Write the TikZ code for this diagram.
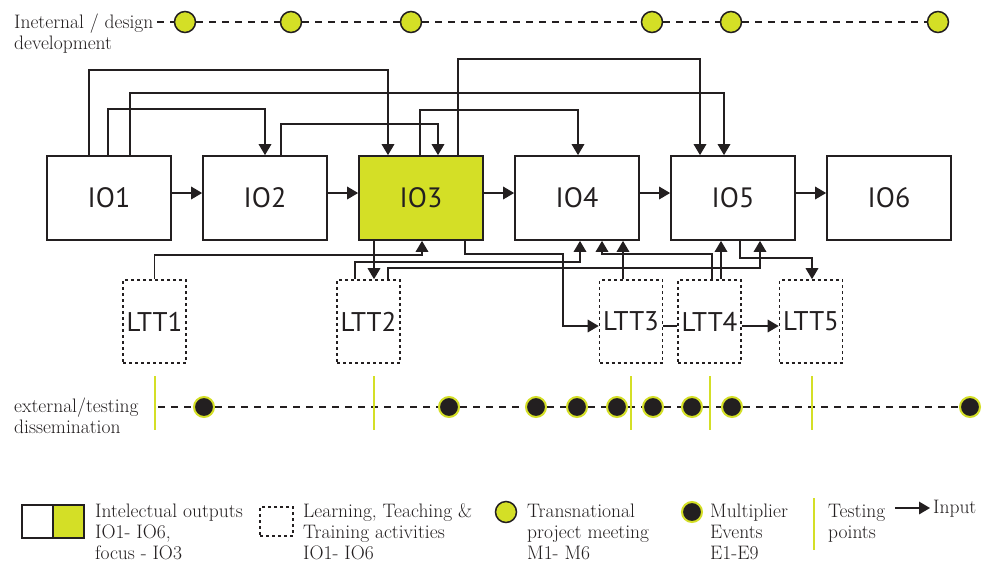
\documentclass[tikz,border=0pt]{standalone}
\usepackage{fontspec}
\newfontfamily\iofont{PT Sans}
\usetikzlibrary{arrows.meta}
\definecolor{iolime}{RGB}{212,223,38}
\definecolor{ink}{RGB}{35,31,32}
\tikzset{
  io/.style={draw=ink, line width=1.7pt, minimum width=124pt, minimum height=84pt, inner sep=0pt,
    font=\iofont\fontsize{28}{30}\selectfont, text=ink},
  ltt/.style={draw=ink, line width=1.6pt, dash pattern=on 3pt off 3pt, minimum width=63pt, minimum height=83pt,
    inner sep=0pt, font=\iofont\fontsize{27}{30}\selectfont, text=ink},
  arr/.style={draw=ink, line width=1.7pt, -{Triangle[length=11pt,width=12.5pt]}},
  link/.style={draw=ink, line width=1.7pt},
  meet/.style={circle, draw=ink, fill=iolime, line width=1.5pt, minimum size=21pt, inner sep=0pt},
  mult/.style={circle, draw=iolime, fill=ink, line width=2pt, minimum size=20pt, inner sep=0pt},
  tline/.style={draw=iolime, line width=2.8pt},
  timeline/.style={draw=ink, line width=1.6pt, dash pattern=on 7pt off 6pt},
  lbl/.style={font=\fontsize{19.5}{21}\selectfont, anchor=base west, inner sep=0pt, text=ink},
  legbox/.style={draw=ink, line width=1.6pt, minimum width=31pt, minimum height=33pt, inner sep=0pt},
  legdash/.style={draw=ink, line width=1.5pt, dash pattern=on 3pt off 3pt, minimum width=33pt, minimum height=29pt, inner sep=0pt}
}
\begin{document}
\begin{tikzpicture}[x=1pt,y=-1pt]
\fill[white] (0,0) rectangle (999,566);
\useasboundingbox (0,0) rectangle (999,566);

% ---- intellectual outputs
\node[io] (IO1) at (109,198) {IO1};
\node[io] (IO2) at (265,198) {IO2};
\node[io,fill=iolime] (IO3) at (421,198) {IO3};
\node[io] (IO4) at (577,198) {IO4};
\node[io] (IO5) at (733,198) {IO5};
\node[io] (IO6) at (889,198) {IO6};

\draw[arr] ([yshift=5pt]IO1.east) -- ([yshift=5pt]IO2.west);
\draw[arr] ([yshift=5pt]IO2.east) -- ([yshift=5pt]IO3.west);
\draw[arr] ([yshift=5pt]IO3.east) -- ([yshift=5pt]IO4.west);
\draw[arr] ([yshift=5pt]IO4.east) -- ([yshift=5pt]IO5.west);
\draw[arr] ([yshift=5pt]IO5.east) -- ([yshift=5pt]IO6.west);

% ---- LTT activities
\node[ltt] (LTT1) at (154.5,321.5) {LTT1};
\node[ltt] (LTT2) at (368.5,321.5) {LTT2};
\node[ltt] (LTT3) at (631,321.5) {LTT3};
\node[ltt] (LTT4) at (709.5,321.5) {LTT4};
\node[ltt] (LTT5) at (811,321.5) {LTT5};

% ---- upper connectors
\draw[arr] ([xshift=-20pt]IO1.north) -- ++(0,-85) -| ([xshift=-33pt]IO3.north);
\draw[arr] ([xshift=21pt]IO1.north) -- ++(0,-62) -| ([xshift=-9pt]IO5.north);
\draw[arr] ([xshift=-1pt]IO1.north) -- ++(0,-46) -| (IO2.north);
\draw[arr] ([xshift=16pt]IO2.north) -- ++(0,-31) -| ([xshift=17pt]IO3.north);
\draw[arr] ([xshift=-1pt]IO3.north) -- ++(0,-45) -| ([xshift=1pt]IO4.north);
\draw[arr] ([xshift=37pt]IO3.north) -- ++(0,-96) -| ([xshift=-33pt]IO5.north);

% ---- lower connectors
\draw[arr] ([xshift=-47pt]IO3.south) -- ([xshift=-47pt]IO3.south |- LTT2.north);
\draw[arr] (LTT1.north) -- ++(0,-24) -| ([xshift=1pt]IO3.south);
\draw[arr] ([xshift=-13.5pt]LTT2.north) -- ++(0,-17) -| ([xshift=3pt]IO4.south);
\draw[arr] ([xshift=19.5pt]LTT2.north) -- ++(0,-11) -| ([xshift=27pt]IO5.south);
\draw[arr] ([xshift=44pt]IO3.south) -- ++(0,13) -- ++(98,0) |- ([yshift=-4.5pt]LTT3.west);
\draw[arr] ([xshift=-8pt]LTT3.north) -- ([xshift=-8pt]LTT3.north |- IO4.south);
\draw[arr] ([xshift=2.5pt]LTT4.north) -- ++(0,-25) -| ([xshift=25pt]IO4.south);
\draw[arr] ([xshift=11.5pt]LTT4.north) -- ([xshift=11.5pt]LTT4.north |- IO5.south);
\draw[arr] ([xshift=7pt]IO5.south) -- ++(0,17) -| ([xshift=1pt]LTT5.north);
\draw[link] ([yshift=-4.5pt]LTT3.east) -- ([yshift=-4.5pt]LTT4.west);
\draw[arr] ([yshift=-4.5pt]LTT4.east) -- ([yshift=-4.5pt]LTT5.west);

% ---- internal timeline
\node[lbl] (tla) at (14,28) {Ineternal / design};
\node[lbl] (tlb) at (14,49) {development};
\coordinate (ts) at (157,22);
\node[meet] (m1) at (185,22) {};
\node[meet] (m2) at (291,22) {};
\node[meet] (m3) at (411,22) {};
\node[meet] (m4) at (652,22) {};
\node[meet] (m5) at (731,22) {};
\node[meet] (m6) at (938,22) {};
\draw[timeline] (ts) -- (m1) -- (m2) -- (m3) -- (m4) -- (m5) -- (m6);

% ---- external timeline
\node[lbl] (bla) at (14,412) {external/testing};
\node[lbl] (blb) at (14,433) {dissemination};
\coordinate (bs) at (158,407);
\node[mult] (e1) at (204,407) {};
\node[mult] (e2) at (449,407) {};
\node[mult] (e3) at (536,407) {};
\node[mult] (e4) at (577,407) {};
\node[mult] (e5) at (617,407) {};
\node[mult] (e6) at (653,407) {};
\node[mult] (e7) at (692,407) {};
\node[mult] (e8) at (732,407) {};
\node[mult] (e9) at (970,407) {};
\draw[timeline] (bs) -- (e1) -- (e2) -- (e3) -- (e4) -- (e5) -- (e6) -- (e7) -- (e8) -- (e9);
\draw[tline] (155,376) -- (155,430);
\draw[tline] (374,376) -- (374,430);
\draw[tline] (631,376) -- (631,430);
\draw[tline] (710,376) -- (710,430);
\draw[tline] (812,376) -- (812,430);

% ---- legend
\node[legbox] (lgw) at (37.5,521.5) {};
\node[legbox,fill=iolime] (lgy) at (68.5,521.5) {};
\node[lbl] (lg1a) at (95,517) {Intelectual outputs};
\node[lbl] (lg1b) at (95,538) {IO1- IO6,};
\node[lbl] (lg1c) at (95,559) {focus - IO3};

\node[legdash] (lgd) at (276.5,521.5) {};
\node[lbl] (lg2a) at (303,517) {Learning, Teaching \&};
\node[lbl] (lg2b) at (303,538) {Training activities};
\node[lbl] (lg2c) at (303,559) {IO1- IO6};

\node[meet] (lgm) at (506,512) {};
\node[lbl] (lg3a) at (527,517) {Transnational};
\node[lbl] (lg3b) at (527,538) {project meeting};
\node[lbl] (lg3c) at (527,559) {M1- M6};

\node[mult] (lge) at (692,512) {};
\node[lbl] (lg4a) at (710,517) {Multiplier};
\node[lbl] (lg4b) at (710,538) {Events};
\node[lbl] (lg4c) at (710,559) {E1-E9};

\draw[tline] (814,498) -- (814,550);
\node[lbl] (lg5a) at (828,517) {Testing};
\node[lbl] (lg5b) at (828,538) {points};

\node[lbl] (inp) at (933,513) {Input};
\coordinate (ia) at (895,508);
\draw[arr] (ia) -- ([xshift=-3pt]ia -| inp.west);
\end{tikzpicture}
\end{document}
